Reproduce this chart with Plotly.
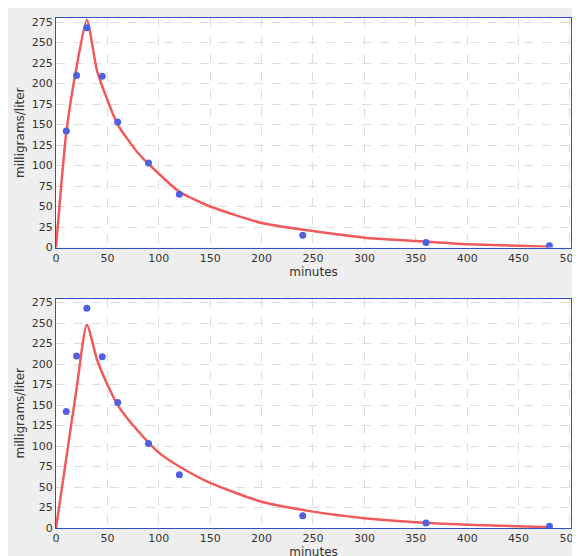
import plotly.graph_objects as go
from plotly.subplots import make_subplots

obs_min = [10, 20, 30, 45, 60, 90, 120, 240, 360, 480]
obs_mg = [142, 210, 268, 209, 153, 103, 65, 15, 6, 2]

fit_min = [0, 10, 20, 30, 40, 50, 60, 80, 100, 120, 150, 200, 250, 300, 350, 400, 450, 480]
fit1_mg = [0, 140, 220, 278, 215, 180, 150, 115, 90, 68, 50, 30, 20, 12, 8, 4, 2, 1]
fit2_mg = [0, 85, 170, 248, 205, 175, 150, 118, 92, 75, 55, 32, 20, 12, 7, 4, 2, 1]

fig = make_subplots(rows=2, cols=1, vertical_spacing=0.1)
for r, fit in [(1, fit1_mg), (2, fit2_mg)]:
    fig.add_trace(go.Scatter(x=fit_min, y=fit, mode="lines",
                             line=dict(color="#f05a5a", width=2.5, shape="spline", smoothing=0.6),
                             showlegend=False), row=r, col=1)
    fig.add_trace(go.Scatter(x=obs_min, y=obs_mg, mode="markers",
                             marker=dict(color="#5060e0", size=7), showlegend=False), row=r, col=1)
    fig.update_xaxes(range=[0, 501], tickvals=list(range(0, 501, 50)), title_text="minutes", showgrid=True,
                     gridcolor="#dddddd", griddash="dash", zeroline=False,
                     showline=True, linecolor="#3050c0", mirror=True,
                     tickfont=dict(size=11, color="#333"), title_font=dict(size=12, color="#333"),
                     title_standoff=2, row=r, col=1)
    fig.update_yaxes(range=[0, 280], dtick=25, title_text="milligrams/liter", showgrid=True,
                     gridcolor="#dddddd", griddash="dash", zeroline=False,
                     showline=True, linecolor="#3050c0", mirror=True, tickfont=dict(size=11, color="#333"),
                     title_font=dict(size=12, color="#333"), title_standoff=4, row=r, col=1)

fig.update_layout(width=580, height=556, paper_bgcolor="#eeeeee", plot_bgcolor="white",
                  margin=dict(l=48, r=10, t=8, b=34), font=dict(family="DejaVu Sans"))
fig.write_html("out.html")
